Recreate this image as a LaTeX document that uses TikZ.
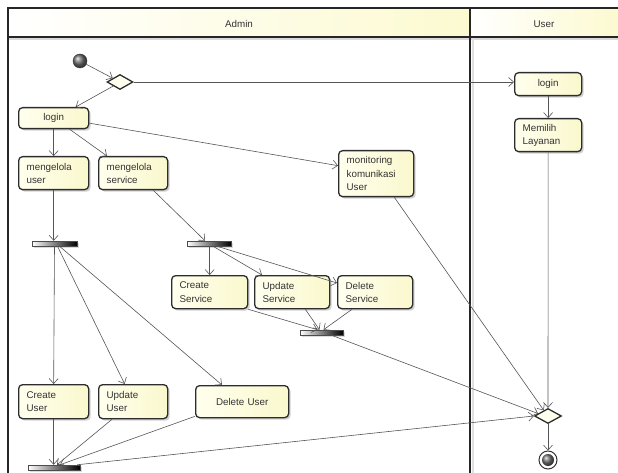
\documentclass[tikz,border=0pt]{standalone}
\usepackage{fontspec}
\setmainfont{Liberation Sans}
\usetikzlibrary{arrows.meta,shapes.geometric,shadows,calc}
\definecolor{nodefillA}{RGB}{255,255,238}
\definecolor{nodefillB}{RGB}{250,248,205}
\definecolor{hdrB}{RGB}{252,250,208}
\definecolor{edgegray}{RGB}{85,85,85}
\definecolor{bordergray}{RGB}{45,45,45}
\tikzset{
  act/.style={draw=bordergray, line width=1.3pt, rounded corners=4pt,
    left color=nodefillA, right color=nodefillB,
    drop shadow={shadow xshift=2pt, shadow yshift=-2pt, fill=black!35, opacity=.5},
    anchor=north west, inner xsep=8pt, inner ysep=3pt, align=left,
    font=\fontsize{9.8}{13.2}\selectfont, text=black!80},
  actc/.style={act, align=center},
  bar/.style={draw=black!70, line width=0.5pt, left color=white, right color=black,
    inner sep=0pt, minimum width=#1, minimum height=5pt,
    drop shadow={shadow xshift=1.5pt, shadow yshift=-1.5pt, fill=black!35, opacity=.4}},
  dec/.style={diamond, draw=bordergray, line width=1.3pt, fill=nodefillA, inner sep=0pt,
    minimum width=26pt, minimum height=15pt},
  flow/.style={draw=edgegray, line width=0.6pt, -{Straight Barb[length=5pt, width=9pt]}},
  lane/.style={draw=black!85, line width=1.6pt},
  hdr/.style={font=\fontsize{9.8}{11}\selectfont, text=black!80}
}
\begin{document}
\begin{tikzpicture}[x=1pt, y=-1pt]
\useasboundingbox (0,0) rectangle (618,473);
% swimlane headers
\shade[left color=white, right color=hdrB] (8,8) rectangle (470,37);
\shade[left color=white, right color=hdrB] (470,8) rectangle (618,37);
\fill[black!15] (9,38) rectangle (618,40);
\node[hdr] (hAdmin) at (239,24) {Admin};
\node[hdr] (hUser) at (544,24) {User};
\draw[lane] (8,473) -- (8,8) -- (618,8);
\draw[lane] (8,37) -- (618,37);
\draw[lane] (470,8) -- (470,473);
\fill[black!12] (472,38) rectangle (473.5,473);

% nodes
\node[circle, minimum size=14pt, inner sep=0pt, draw=black!80, shading=ball, ball color=black!55] (init) at (80,61) {};
\node[dec] (d1) at (120,82) {};
\node[actc, text width=54pt, minimum height=21pt] (lgA) at (18,107) {login};
\node[actc, text width=51pt, minimum height=23pt] (lgU) at (514,72) {login};
\node[act, text width=51pt, minimum height=33pt] (mem) at (514,118) {Memilih\\Layanan};
\node[act, text width=54pt, minimum height=33pt] (mu) at (18,156) {mengelola\\user};
\node[act, text width=53pt, minimum height=33pt] (ms) at (98,156) {mengelola\\service};
\node[act, text width=59pt, minimum height=46pt] (mon) at (338,150) {monitoring\\komunikasi\\User};
\node[bar=45pt] (f1) at (54.5,243.5) {};
\node[bar=44pt] (f2) at (209,243.5) {};
\node[act, text width=60pt, minimum height=33pt] (cs) at (171,275) {Create\\Service};
\node[act, text width=59pt, minimum height=33pt] (us) at (254,275) {Update\\Service};
\node[act, text width=59pt, minimum height=33pt] (ds) at (337,275) {Delete\\Service};
\node[bar=43pt] (j3) at (321.5,332.5) {};
\node[act, text width=54pt, minimum height=34pt] (cu) at (18,384) {Create\\User};
\node[act, text width=53pt, minimum height=34pt] (uu) at (98,384) {Update\\User};
\node[actc, text width=77pt, minimum height=32pt] (du) at (195,385) {Delete User};
\node[bar=52pt] (j1) at (54,467.5) {};
\node[dec, minimum width=27pt] (d2) at (548,416) {};
\node[circle, minimum size=18pt, inner sep=0pt, draw=black!80, line width=1pt, fill=white] (fin) at (548,460) {};
\shade[ball color=black!55] (fin.center) circle (6pt);

% connectors
\draw[flow] (init) -- (d1);
\draw[flow] (d1.east) -- (d1.east -| lgU.west);
\draw[flow] ($(d1.south)!0.5!(d1.west)$) -- ([xshift=22pt]lgA.north);
\draw[flow] (lgA.south) -- (mu.north);
\draw[flow] ([xshift=16pt]lgA.south) -- ([xshift=9pt]ms.north west);
\draw[flow] ([yshift=-5pt]lgA.east) -- ([yshift=8pt]mon.west);
\draw[flow] (lgU) -- (mem);
\draw[flow] (mu.south) -- (mu.south |- f1.north);
\draw[flow] ([xshift=-15pt]ms.south east) -- ([xshift=-4pt]f2.north);
\draw[flow] (cs.north |- f2.south) -- (cs.north);
\draw[flow] ([xshift=4pt]f2.south) -- ([xshift=8pt]us.north west);
\draw[flow] ([xshift=8pt]f2.south) -- ([yshift=-8pt]ds.north west);
\draw[flow] (cs.south east) -- ([xshift=-4pt]j3.north);
\draw[flow] ([xshift=-25pt]us.south east) -- ([xshift=-2pt]j3.north);
\draw[flow] ([xshift=15pt]ds.south west) -- ([xshift=2pt]j3.north);
\draw[flow] ([xshift=10pt]j3.south) -- ($(d2.west)!0.3!(d2.north)$);
\draw[flow] ([xshift=-20pt]mon.south east) -- ($(d2.north)!0.3!(d2.west)$);
\draw[flow] (mem.south) -- (d2.north);
\draw[flow] (f1.south) -- (cu.north);
\draw[flow] ([xshift=3pt]f1.south) -- ([xshift=-8.5pt]uu.north);
\draw[flow] ([xshift=5pt]f1.south) -- ([xshift=27pt]du.north west);
\draw[flow] (cu.south) -- (cu.south |- j1.north);
\draw[flow] ([xshift=14pt]uu.south west) -- ([xshift=3pt]j1.north);
\draw[flow] ([yshift=2pt]du.south west) -- ([xshift=6pt]j1.north);
\draw[flow] ([xshift=-3pt]j1.north east) -- (d2.west);
\draw[flow] (d2.south) -- (fin.north);
\end{tikzpicture}
\end{document}
